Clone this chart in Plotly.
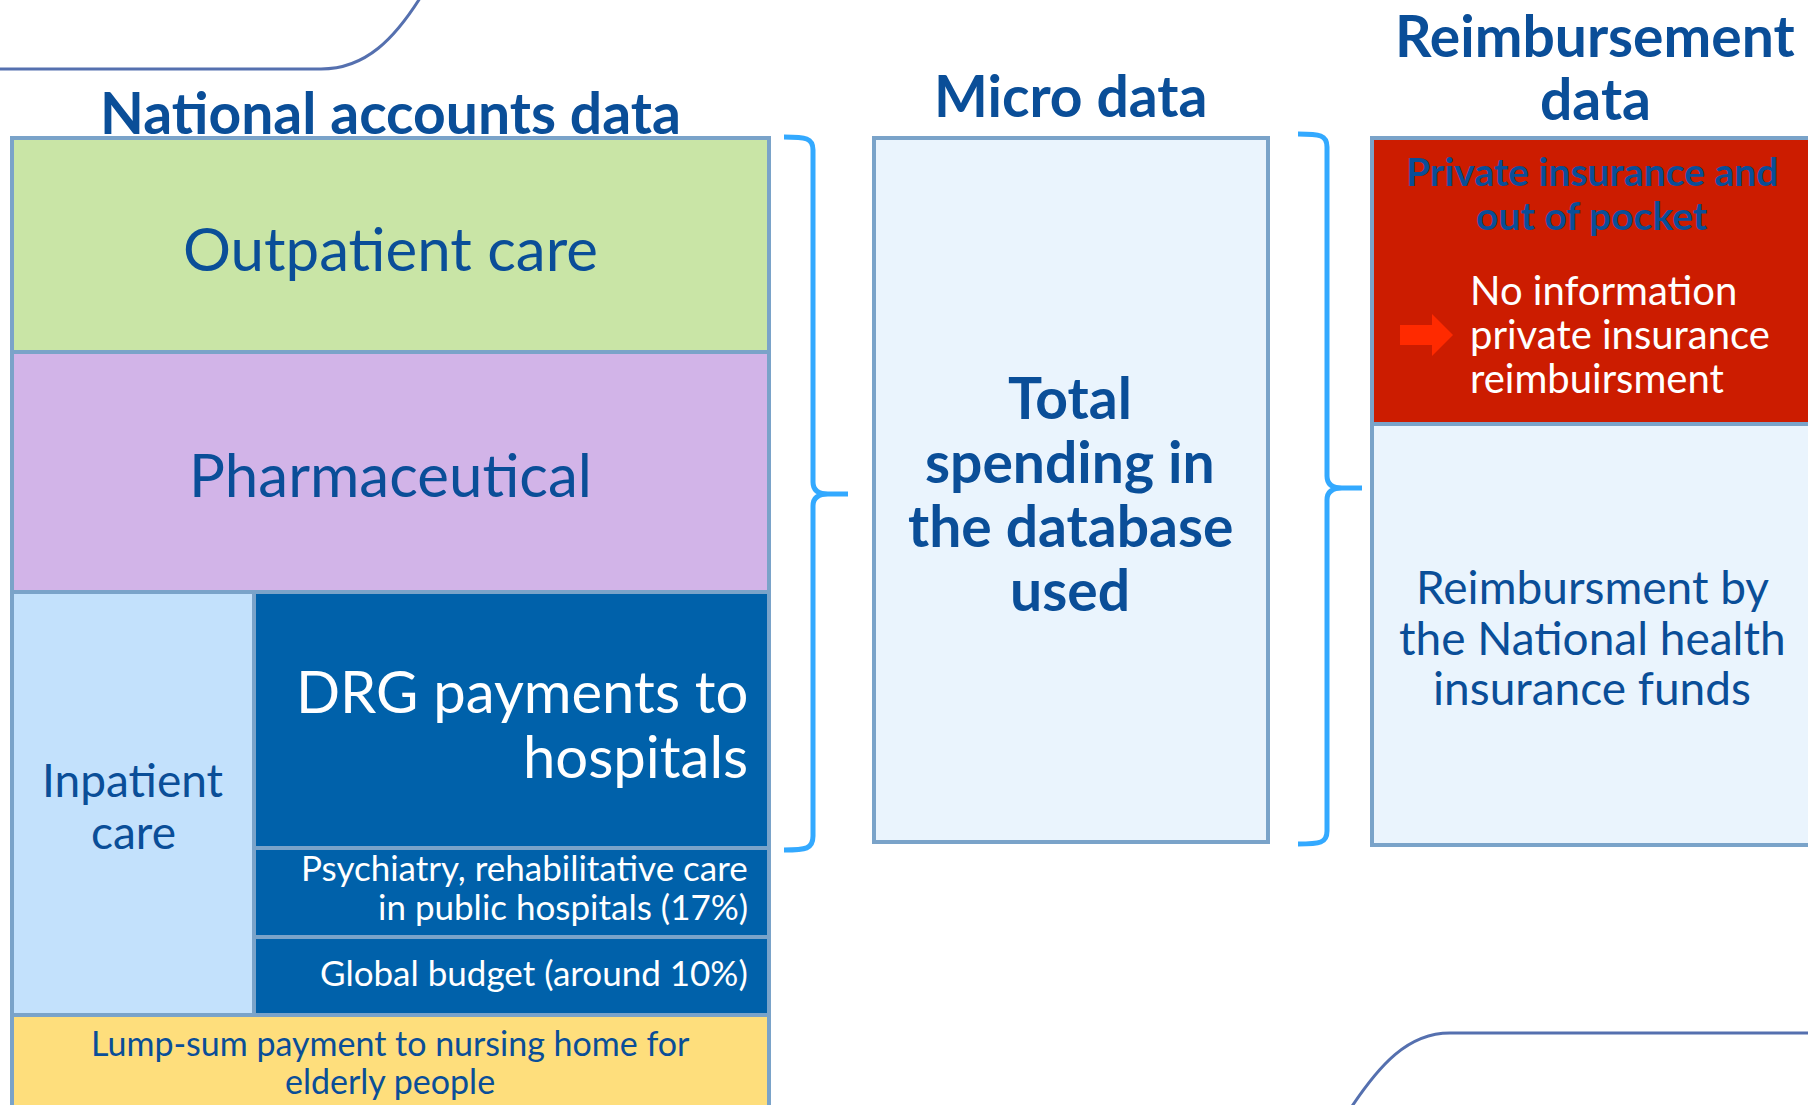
import plotly.graph_objects as go

# ---------------- content ----------------
group_titles = ["National accounts data", "Micro data", "Reimbursement", "data"]
national_blocks = ["Outpatient care", "Pharmaceutical", "Inpatient care",
                   "DRG payments to hospitals",
                   "Psychiatry, rehabilitative care in public hospitals (17%)",
                   "Global budget (around 10%)",
                   "Lump-sum payment to nursing home for elderly people"]
micro_lines = ["Total", "spending in", "the database", "used"]
private_title = ["Private insurance and", "out of pocket"]
private_note = ["No information", "private insurance", "reimbuirsment"]
public_lines = ["Reimbursment by", "the National health", "insurance funds"]

# ---------------- styles ----------------
FONT = "Lato"
DARK = "#0A4E98"
BORDER = "#7AA3C9"
BRACE = "#33A9FF"
DECO = "#5570AF"
W, H = 1808, 1105

fig = go.Figure()
shapes = []
ann = []


def rect(x0, y0, x1, y1, fill, lw=4, lc=BORDER):
    shapes.append(dict(type="rect", xref="x", yref="y", x0=x0, y0=y0, x1=x1, y1=y1,
                       fillcolor=fill, line=dict(color=lc, width=lw), layer="below"))


def text(t, x, y, size, color=DARK, bold=False, xanchor="center"):
    if bold:
        t = "<b>" + t + "</b>"
    ann.append(dict(text=t, x=x, y=y, xref="x", yref="y", showarrow=False,
                    xanchor=xanchor, yanchor="middle",
                    font=dict(family=FONT, size=size, color=color)))


def path(d, color, width, fill=None):
    s = dict(type="path", xref="x", yref="y", path=d, line=dict(color=color, width=width))
    if fill:
        s["fillcolor"] = fill
        s["line"] = dict(width=0)
    shapes.append(s)


# decorative curves
path("M 0,69 L 321,69 C 365,69 395,40 425,-10", DECO, 3)
path("M 1830,1033 L 1450,1033 C 1410,1033 1380,1060 1340,1125", DECO, 3)

# national accounts blocks
rect(12, 138, 769, 352, "#C9E5A6")
rect(12, 352, 769, 592, "#D2B4E8")
rect(12, 592, 254, 1015, "#C3E1FC")
rect(254, 592, 769, 848, "#0061AA")
rect(254, 848, 769, 937, "#0061AA")
rect(254, 937, 769, 1015, "#0061AA")
rect(12, 1015, 769, 1110, "#FEDE7C")

# micro box
rect(874, 138, 1268, 842, "#EAF4FD")

# reimbursement boxes
rect(1372, 138, 1830, 424, "#CC1C00")
rect(1372, 424, 1830, 845, "#EAF4FD")

# braces
path("M 784,137 C 806,137 813,138 813,150 L 813,482 Q 813,494 828,494 L 848,494 "
     "M 828,494 Q 813,494 813,506 L 813,836 C 813,849 806,850 784,850", BRACE, 5)
path("M 1298,134 C 1320,134 1327,135 1327,147 L 1327,476 Q 1327,488 1342,488 L 1362,488 "
     "M 1342,488 Q 1327,488 1327,500 L 1327,831 C 1327,843 1320,844 1298,844", BRACE, 5)

# arrow
path("M 1400,325 L 1432,325 L 1432,314 L 1453,335 L 1432,356 L 1432,345 L 1400,345 Z",
     "#FF2A00", 0, fill="#FF2A00")

# titles
text(group_titles[0], 390, 112, 57, bold=True)
text(group_titles[1], 1070, 95, 57, bold=True)
text(group_titles[2], 1595, 35, 57, bold=True)
text(group_titles[3], 1595, 98, 57, bold=True)

# national accounts texts
text(national_blocks[0], 390, 248, 60)
text(national_blocks[1], 390, 474, 60)
text("Inpatient", 133, 779, 46)
text("care", 133, 831, 46)
text("DRG payments to", 750, 690, 58, color="white", xanchor="right")
text("hospitals", 750, 755, 58, color="white", xanchor="right")
text("Psychiatry, rehabilitative care", 750, 867, 35, color="white", xanchor="right")
text("in public hospitals (17%)", 750, 906, 35, color="white", xanchor="right")
text(national_blocks[5], 750, 972, 35, color="white", xanchor="right")
text("Lump-sum payment to nursing home for", 390, 1042, 34)
text("elderly people", 390, 1080, 34)

# micro texts
for line, yy in zip(micro_lines, [397, 461, 525, 589]):
    text(line, 1070, yy, 57, bold=True)

# reimbursement texts
for line, yy in zip(private_title, [171, 215]):
    text(line, 1592, yy, 39, bold=True)
for line, yy in zip(private_note, [290, 334, 378]):
    text(line, 1468, yy, 40, color="white", xanchor="left")
for line, yy in zip(public_lines, [586, 637, 687]):
    text(line, 1592, yy, 46)

fig.update_layout(
    width=W, height=H, margin=dict(l=0, r=0, t=0, b=0),
    paper_bgcolor="white", plot_bgcolor="white",
    xaxis=dict(range=[0, W], visible=False, fixedrange=True),
    yaxis=dict(range=[H, 0], visible=False, fixedrange=True),
    shapes=shapes, annotations=ann, showlegend=False,
)

fig.write_html("out.html", config={"displayModeBar": False},
               post_script="document.body.style.margin='0';document.body.style.overflow='hidden';")
